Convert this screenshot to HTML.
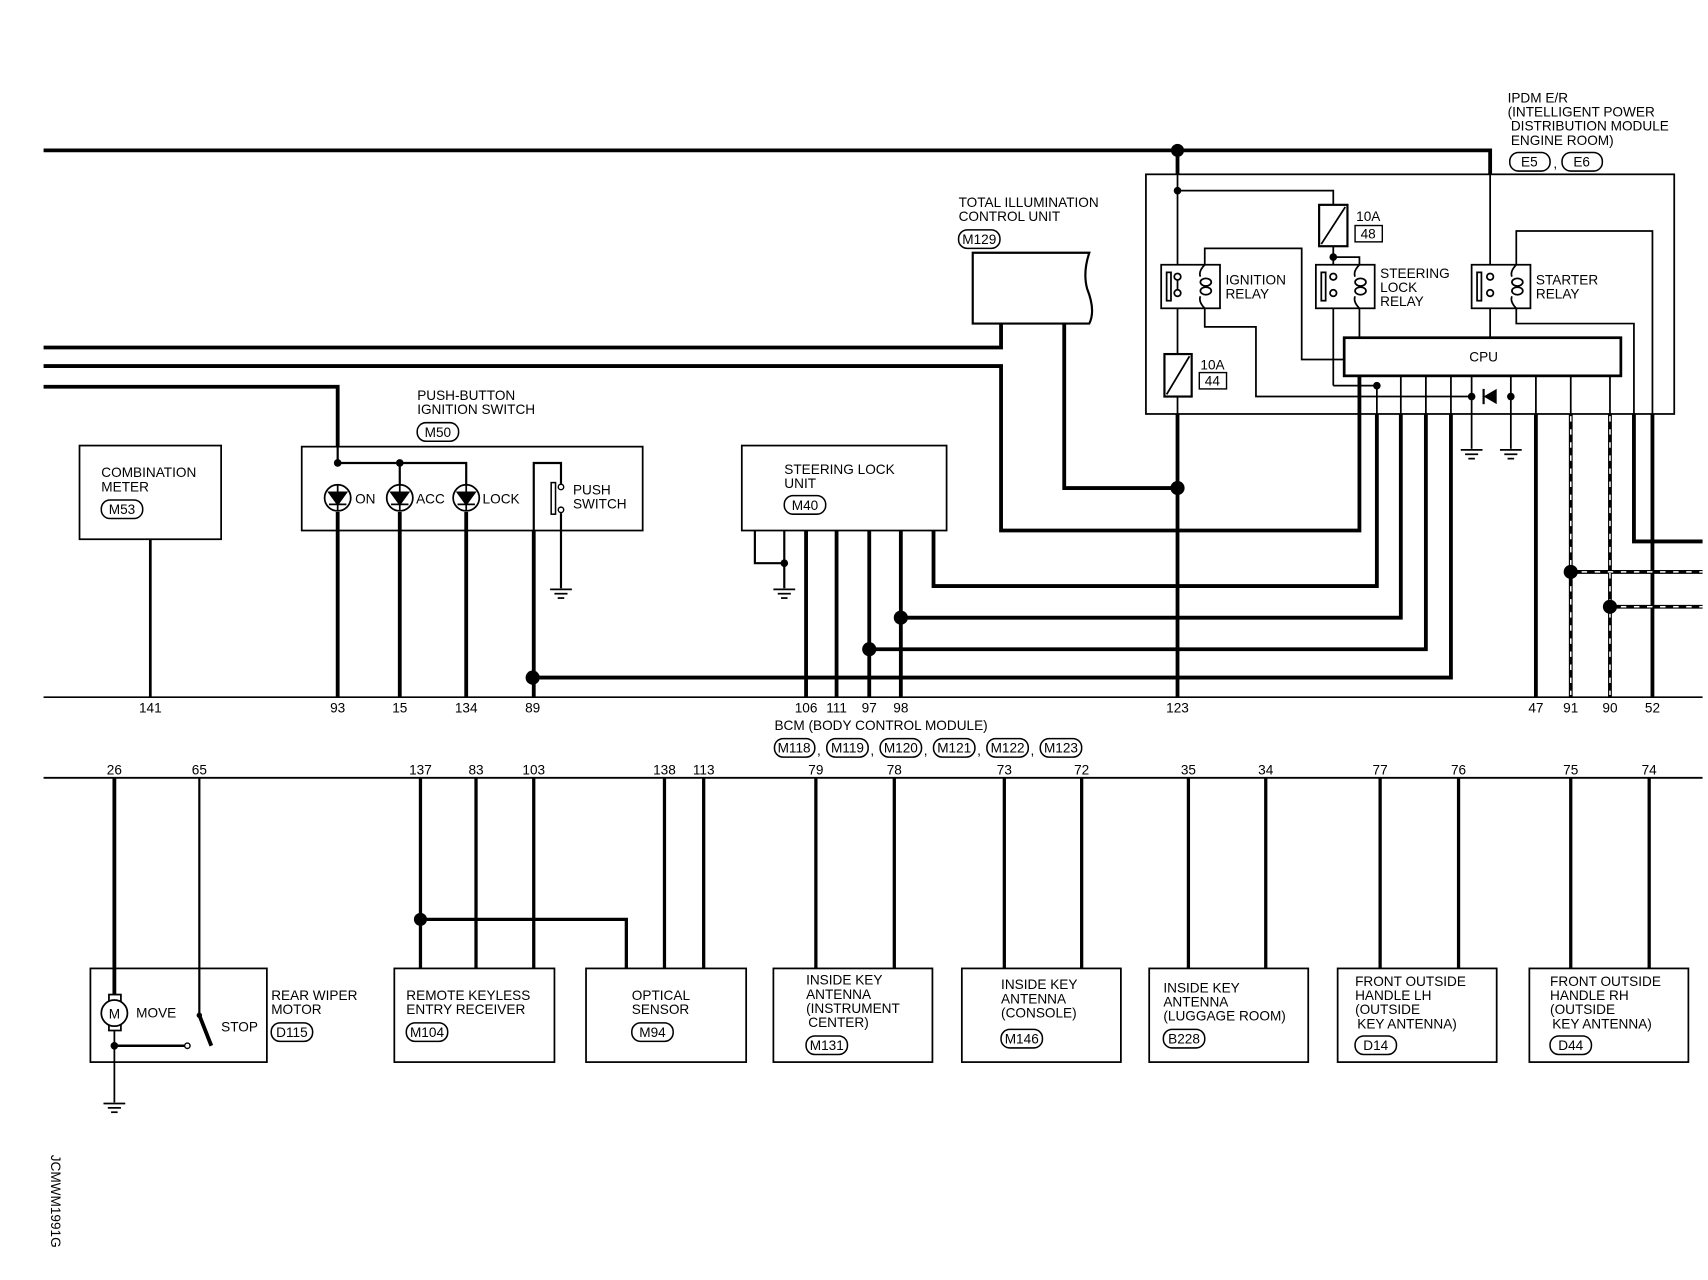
<!DOCTYPE html>
<html><head><meta charset="utf-8"><style>
html,body{margin:0;padding:0;background:#fff}
svg{display:block}
text{font-family:"Liberation Sans",sans-serif;font-size:12.5px;fill:#000}
.k{stroke:#000;fill:none}
</style></head><body>
<svg width="1708" height="1280" viewBox="0 0 1568 1175" xmlns="http://www.w3.org/2000/svg">
<defs>
<g id="gnd"><line x1="-10" y1="0" x2="10" y2="0" stroke="#000" stroke-width="1.6"/><line x1="-6" y1="4" x2="6" y2="4" stroke="#000" stroke-width="1.6"/><line x1="-3" y1="8" x2="3" y2="8" stroke="#000" stroke-width="1.6"/></g>
</defs>
<g class="k" stroke-width="3.5">
<!-- top wires -->
<polyline points="40,138 1368,138 1368,160"/>
<polyline points="40,319 919,319 919,297"/>
<polyline points="40,336 919,336 919,487 1248,487 1248,345"/>
<polyline points="40,355 310,355 310,410"/>
<polyline points="977,297 977,448 1081,448"/>
<line x1="1081" y1="138" x2="1081" y2="160"/>
<line x1="1081" y1="380" x2="1081" y2="640"/>
<!-- pins to upper BCM row -->
<line x1="138" y1="495" x2="138" y2="640" stroke-width="2.5"/>
<line x1="310" y1="470" x2="310" y2="640"/>
<line x1="367" y1="470" x2="367" y2="640"/>
<line x1="428" y1="470" x2="428" y2="640"/>
<line x1="490" y1="487" x2="490" y2="640"/>
<line x1="740" y1="487" x2="740" y2="640"/>
<line x1="768" y1="487" x2="768" y2="640"/>
<line x1="798" y1="487" x2="798" y2="640"/>
<line x1="827" y1="487" x2="827" y2="640"/>
<polyline points="489,622 1332,622 1332,380"/>
<polyline points="798,596 1309,596 1309,380"/>
<polyline points="827,567 1286,567 1286,380"/>
<polyline points="857,487 857,538 1264,538 1264,380"/>
<line x1="1410" y1="380" x2="1410" y2="640"/>
<line x1="1478" y1="380" x2="1478" y2="640"/>
<polyline points="1500,380 1500,497 1563,497"/>
<line x1="1517" y1="380" x2="1517" y2="640"/>
<line x1="1442" y1="380" x2="1442" y2="640"/>
<line x1="1442" y1="525" x2="1563" y2="525"/>
<line x1="1478" y1="557" x2="1563" y2="557"/>
</g>
<!-- dashed overlays -->
<g stroke="#fff" stroke-width="1.4" stroke-dasharray="5,7" fill="none">
<line x1="1442" y1="382" x2="1442" y2="638"/>
<line x1="1478" y1="382" x2="1478" y2="638"/>
<line x1="1452" y1="525" x2="1563" y2="525"/>
<line x1="1488" y1="557" x2="1563" y2="557"/>
</g>
<g class="k" stroke-width="2">
<polyline points="693,487 693,517 720,517"/>
<line x1="720" y1="487" x2="720" y2="540"/>
</g>
<use href="#gnd" x="720" y="541"/>
<!-- BCM rows -->
<line x1="40" y1="640" x2="1563" y2="640" stroke="#000" stroke-width="1.6"/>
<line x1="40" y1="714" x2="1563" y2="714" stroke="#000" stroke-width="1.8"/>
<!-- IPDM box -->
<rect x="1052" y="160" width="485" height="220" class="k" stroke-width="1.6"/>
<g class="k" stroke-width="1.6">
<line x1="1081" y1="160" x2="1081" y2="325"/>
<polyline points="1081,175 1224,175 1224,188"/>
<line x1="1224" y1="226" x2="1224" y2="354"/>
<polyline points="1224,354 1264,354"/>
<polyline points="1224,236 1248,236 1248,243"/>
<line x1="1248" y1="283" x2="1248" y2="310"/>
<polyline points="1106,243 1106,228 1195,228 1195,330 1234,330"/>
<polyline points="1106,283 1106,300 1153,300 1153,364 1351,364"/>
<line x1="1387" y1="364" x2="1387" y2="345"/>
<line x1="1351" y1="345" x2="1351" y2="412"/>
<line x1="1387" y1="364" x2="1387" y2="412"/>
<line x1="1368" y1="160" x2="1368" y2="310"/>
<polyline points="1392,243 1392,212 1517,212 1517,380"/>
<polyline points="1392,283 1392,297 1500,297 1500,380"/>
<line x1="1248" y1="345" x2="1248" y2="380"/>
<line x1="1264" y1="354" x2="1264" y2="380"/>
<line x1="1286" y1="345" x2="1286" y2="380"/>
<line x1="1309" y1="345" x2="1309" y2="380"/>
<line x1="1332" y1="345" x2="1332" y2="380"/>
<line x1="1410" y1="345" x2="1410" y2="380"/>
<line x1="1442" y1="345" x2="1442" y2="380"/>
<line x1="1478" y1="345" x2="1478" y2="380"/>
<line x1="1081" y1="364" x2="1081" y2="380"/>
</g>
<use href="#gnd" x="1351" y="413"/><use href="#gnd" x="1387" y="413"/>
<!-- diode -->
<polygon points="1362,364 1374,357 1374,371" fill="#000"/>
<line x1="1362" y1="357" x2="1362" y2="371" stroke="#000" stroke-width="2"/>
<!-- CPU -->
<rect x="1234" y="310" width="254" height="35" fill="#fff" stroke="#000" stroke-width="2.5"/>
<text x="1362" y="332" text-anchor="middle">CPU</text>
<!-- fuses -->
<rect x="1211" y="188" width="26" height="38" fill="#fff" stroke="#000" stroke-width="2"/><line x1="1213" y1="224" x2="1235" y2="190" stroke="#000" stroke-width="1.6"/>
<text x="1245" y="203">10A</text><rect x="1244" y="207" width="25" height="15" class="k" stroke-width="1.3"/><text x="1256" y="219" text-anchor="middle">48</text>
<rect x="1069" y="325" width="25" height="39" fill="#fff" stroke="#000" stroke-width="2"/><line x1="1071" y1="362" x2="1092" y2="327" stroke="#000" stroke-width="1.6"/>
<text x="1102" y="339">10A</text><rect x="1101" y="342" width="25" height="15" class="k" stroke-width="1.3"/><text x="1113" y="354" text-anchor="middle">44</text>
<!-- relays -->
<g fill="#fff" stroke="#000" stroke-width="1.6">
<rect x="1066" y="243" width="54" height="40"/><rect x="1208" y="243" width="54" height="40"/><rect x="1351" y="243" width="54" height="40"/>
<rect x="1071" y="250" width="4" height="26"/><rect x="1213" y="250" width="4" height="26"/><rect x="1356" y="250" width="4" height="26"/>
<circle cx="1081" cy="254" r="3"/><circle cx="1081" cy="269" r="3"/>
<circle cx="1224" cy="254" r="3"/><circle cx="1224" cy="269" r="3"/>
<circle cx="1368" cy="254" r="3"/><circle cx="1368" cy="269" r="3"/>
<ellipse cx="1107" cy="259" rx="5" ry="3.5"/><ellipse cx="1107" cy="267" rx="5" ry="3.5"/>
<ellipse cx="1249" cy="259" rx="5" ry="3.5"/><ellipse cx="1249" cy="267" rx="5" ry="3.5"/>
<ellipse cx="1393" cy="259" rx="5" ry="3.5"/><ellipse cx="1393" cy="267" rx="5" ry="3.5"/>
</g>
<g class="k" stroke-width="1.6">
<line x1="1081" y1="257" x2="1081" y2="266"/>
<path d="M1106,243 q-6,6 -4,11 M1106,283 q-6,-6 -4,-11 M1248,243 q-6,6 -4,11 M1248,283 q-6,-6 -4,-11 M1392,243 q-6,6 -4,11 M1392,283 q-6,-6 -4,-11"/>
</g>
<text x="1125" y="261">IGNITION</text><text x="1125" y="274">RELAY</text>
<text x="1267" y="255">STEERING</text><text x="1267" y="268">LOCK</text><text x="1267" y="281">RELAY</text>
<text x="1410" y="261">STARTER</text><text x="1410" y="274">RELAY</text>
<text x="1384" y="94">IPDM E/R</text><text x="1384" y="107">(INTELLIGENT POWER</text><text x="1387" y="120">DISTRIBUTION MODULE</text><text x="1387" y="133">ENGINE ROOM)</text>
<rect x="1386" y="140" width="37" height="17" rx="8" class="k" stroke-width="1.4"/><text x="1404" y="153" text-anchor="middle">E5</text>
<text x="1426" y="154">,</text>
<rect x="1434" y="140" width="37" height="17" rx="8" class="k" stroke-width="1.4"/><text x="1452" y="153" text-anchor="middle">E6</text>
<!-- TIC -->
<path d="M893,232 H1000 Q994,250 998,265 Q1006,285 1000,297 H893 Z" class="k" stroke-width="2"/>
<text x="880" y="190">TOTAL ILLUMINATION</text><text x="880" y="203">CONTROL UNIT</text>
<rect x="880" y="211" width="38" height="17" rx="8" class="k" stroke-width="1.4"/><text x="899" y="224" text-anchor="middle">M129</text>
<!-- combination meter -->
<rect x="73" y="409" width="130" height="86" class="k" stroke-width="1.6"/>
<text x="93" y="438">COMBINATION</text><text x="93" y="451">METER</text>
<rect x="93" y="459" width="38" height="17" rx="8" class="k" stroke-width="1.4"/><text x="112" y="472" text-anchor="middle">M53</text>
<!-- push button -->
<rect x="277" y="410" width="313" height="77" class="k" stroke-width="1.6"/>
<g class="k" stroke-width="2"><polyline points="310,410 310,425 428,425 428,445"/><line x1="367" y1="425" x2="367" y2="445"/>
<polyline points="490,487 490,425 515,425 515,444"/><line x1="515" y1="471" x2="515" y2="540"/></g>
<use href="#gnd" x="515" y="541"/>
<rect x="506" y="443" width="4" height="29" class="k" stroke-width="1.4"/>
<circle cx="515" cy="447" r="2.5" fill="#fff" stroke="#000" stroke-width="1.3"/><circle cx="515" cy="468" r="2.5" fill="#fff" stroke="#000" stroke-width="1.3"/>
<text x="526" y="454">PUSH</text><text x="526" y="467">SWITCH</text>
<g stroke="#000" stroke-width="1.6">
<circle cx="310" cy="457" r="12" fill="#fff"/><circle cx="367" cy="457" r="12" fill="#fff"/><circle cx="428" cy="457" r="12" fill="#fff"/>
<line x1="310" y1="445" x2="310" y2="469"/><line x1="367" y1="445" x2="367" y2="469"/><line x1="428" y1="445" x2="428" y2="469"/>
<polygon points="302,452 318,452 310,463" fill="#000"/><line x1="302" y1="463" x2="318" y2="463"/>
<polygon points="359,452 375,452 367,463" fill="#000"/><line x1="359" y1="463" x2="375" y2="463"/>
<polygon points="420,452 436,452 428,463" fill="#000"/><line x1="420" y1="463" x2="436" y2="463"/>
</g>
<text x="326" y="462">ON</text><text x="382" y="462">ACC</text><text x="443" y="462">LOCK</text>
<text x="383" y="367">PUSH-BUTTON</text><text x="383" y="380">IGNITION SWITCH</text>
<rect x="383" y="388" width="38" height="17" rx="8" class="k" stroke-width="1.4"/><text x="402" y="401" text-anchor="middle">M50</text>
<!-- steering lock unit -->
<rect x="681" y="409" width="188" height="78" class="k" stroke-width="1.6"/>
<text x="720" y="435">STEERING LOCK</text><text x="720" y="448">UNIT</text>
<rect x="720" y="455" width="38" height="17" rx="8" class="k" stroke-width="1.4"/><text x="739" y="468" text-anchor="middle">M40</text>
<!-- dots -->
<g fill="#000">
<circle cx="1081" cy="138" r="6"/><circle cx="1081" cy="448" r="6.5"/><circle cx="1081" cy="175" r="3.5"/><circle cx="1224" cy="236" r="3.5"/><circle cx="1264" cy="354" r="3.5"/>
<circle cx="1351" cy="364" r="3.5"/><circle cx="1387" cy="364" r="3.5"/>
<circle cx="310" cy="425" r="3.5"/><circle cx="367" cy="425" r="3.5"/><circle cx="720" cy="517" r="3.5"/>
<circle cx="489" cy="622" r="6.5"/><circle cx="798" cy="596" r="6.5"/><circle cx="827" cy="567" r="6.5"/>
<circle cx="1442" cy="525" r="6.5"/><circle cx="1478" cy="557" r="6.5"/>
<circle cx="386" cy="844" r="6"/><circle cx="105" cy="960" r="3.5"/>
</g>
<!-- upper pin labels -->
<g text-anchor="middle">
<text x="138" y="654">141</text><text x="310" y="654">93</text><text x="367" y="654">15</text><text x="428" y="654">134</text><text x="489" y="654">89</text>
<text x="740" y="654">106</text><text x="768" y="654">111</text><text x="798" y="654">97</text><text x="827" y="654">98</text><text x="1081" y="654">123</text>
<text x="1410" y="654">47</text><text x="1442" y="654">91</text><text x="1478" y="654">90</text><text x="1517" y="654">52</text>
<text x="105" y="711">26</text><text x="183" y="711">65</text><text x="386" y="711">137</text><text x="437" y="711">83</text><text x="490" y="711">103</text>
<text x="610" y="711">138</text><text x="646" y="711">113</text><text x="749" y="711">79</text><text x="821" y="711">78</text><text x="922" y="711">73</text><text x="993" y="711">72</text>
<text x="1091" y="711">35</text><text x="1162" y="711">34</text><text x="1267" y="711">77</text><text x="1339" y="711">76</text><text x="1442" y="711">75</text><text x="1514" y="711">74</text>
</g>
<text x="711" y="670">BCM (BODY CONTROL MODULE)</text>
<g class="k" stroke-width="1.4">
<rect x="711" y="678" width="37" height="17" rx="8"/><rect x="759" y="678" width="38" height="17" rx="8"/><rect x="808" y="678" width="38" height="17" rx="8"/>
<rect x="857" y="678" width="38" height="17" rx="8"/><rect x="906" y="678" width="38" height="17" rx="8"/><rect x="955" y="678" width="38" height="17" rx="8"/>
</g>
<g text-anchor="middle"><text x="729" y="691">M118</text><text x="778" y="691">M119</text><text x="827" y="691">M120</text><text x="876" y="691">M121</text><text x="925" y="691">M122</text><text x="974" y="691">M123</text></g>
<text x="750" y="693">,</text><text x="799" y="693">,</text><text x="848" y="693">,</text><text x="897" y="693">,</text><text x="946" y="693">,</text>
<!-- lower wires -->
<g class="k" stroke-width="3">
<line x1="105" y1="714" x2="105" y2="913" stroke-width="3.5"/>
<line x1="183" y1="714" x2="183" y2="932" stroke-width="2"/>
<line x1="386" y1="714" x2="386" y2="889"/><line x1="437" y1="714" x2="437" y2="889"/><line x1="490" y1="714" x2="490" y2="889"/>
<polyline points="386,844 575,844 575,889"/>
<line x1="610" y1="714" x2="610" y2="889"/><line x1="646" y1="714" x2="646" y2="889"/>
<line x1="749" y1="714" x2="749" y2="889"/><line x1="821" y1="714" x2="821" y2="889"/>
<line x1="922" y1="714" x2="922" y2="889"/><line x1="993" y1="714" x2="993" y2="889"/>
<line x1="1091" y1="714" x2="1091" y2="889"/><line x1="1162" y1="714" x2="1162" y2="889"/>
<line x1="1267" y1="714" x2="1267" y2="889"/><line x1="1339" y1="714" x2="1339" y2="889"/>
<line x1="1442" y1="714" x2="1442" y2="889"/><line x1="1514" y1="714" x2="1514" y2="889"/>
</g>
<!-- lower boxes -->
<g class="k" stroke-width="1.6">
<rect x="83" y="889" width="162" height="86"/><rect x="362" y="889" width="147" height="86"/><rect x="538" y="889" width="147" height="86"/>
<rect x="710" y="889" width="146" height="86"/><rect x="883" y="889" width="146" height="86"/><rect x="1055" y="889" width="146" height="86"/>
<rect x="1228" y="889" width="146" height="86"/><rect x="1404" y="889" width="146" height="86"/>
<line x1="105" y1="946" x2="105" y2="1012"/><line x1="105" y1="960" x2="169" y2="960" stroke-width="2.2"/>
<rect x="100" y="913" width="11" height="33"/>
</g>
<use href="#gnd" x="105" y="1013"/>
<circle cx="105" cy="930" r="12" fill="#fff" stroke="#000" stroke-width="1.6"/><text x="105" y="935" text-anchor="middle" font-size="13">M</text>
<circle cx="172" cy="960" r="2.5" fill="#fff" stroke="#000" stroke-width="1.3"/>
<line x1="183" y1="932" x2="194" y2="960" stroke="#000" stroke-width="3.5"/><circle cx="183" cy="932" r="2.5" fill="#000"/>
<text x="125" y="934">MOVE</text><text x="203" y="947">STOP</text>
<text x="249" y="918">REAR WIPER</text><text x="249" y="931">MOTOR</text>
<text x="373" y="918">REMOTE KEYLESS</text><text x="373" y="931">ENTRY RECEIVER</text>
<text x="580" y="918">OPTICAL</text><text x="580" y="931">SENSOR</text>
<text x="740" y="904">INSIDE KEY</text><text x="740" y="917">ANTENNA</text><text x="740" y="930">(INSTRUMENT</text><text x="742" y="943">CENTER)</text>
<text x="919" y="908">INSIDE KEY</text><text x="919" y="921">ANTENNA</text><text x="919" y="934">(CONSOLE)</text>
<text x="1068" y="911">INSIDE KEY</text><text x="1068" y="924">ANTENNA</text><text x="1068" y="937">(LUGGAGE ROOM)</text>
<text x="1244" y="905">FRONT OUTSIDE</text><text x="1244" y="918">HANDLE LH</text><text x="1244" y="931">(OUTSIDE</text><text x="1246" y="944">KEY ANTENNA)</text>
<text x="1423" y="905">FRONT OUTSIDE</text><text x="1423" y="918">HANDLE RH</text><text x="1423" y="931">(OUTSIDE</text><text x="1425" y="944">KEY ANTENNA)</text>
<g class="k" stroke-width="1.4">
<rect x="249" y="939" width="38" height="17" rx="8"/><rect x="373" y="939" width="38" height="17" rx="8"/><rect x="580" y="939" width="38" height="17" rx="8"/>
<rect x="740" y="951" width="38" height="17" rx="8"/><rect x="919" y="945" width="38" height="17" rx="8"/><rect x="1068" y="945" width="38" height="17" rx="8"/>
<rect x="1244" y="951" width="38" height="17" rx="8"/><rect x="1423" y="951" width="38" height="17" rx="8"/>
</g>
<g text-anchor="middle">
<text x="268" y="952">D115</text><text x="392" y="952">M104</text><text x="599" y="952">M94</text><text x="759" y="964">M131</text>
<text x="938" y="958">M146</text><text x="1087" y="958">B228</text><text x="1263" y="964">D14</text><text x="1442" y="964">D44</text>
</g>
<text transform="translate(47,1060) rotate(90)" font-size="12">JCMWM1991G</text>
</svg>
</body></html>
